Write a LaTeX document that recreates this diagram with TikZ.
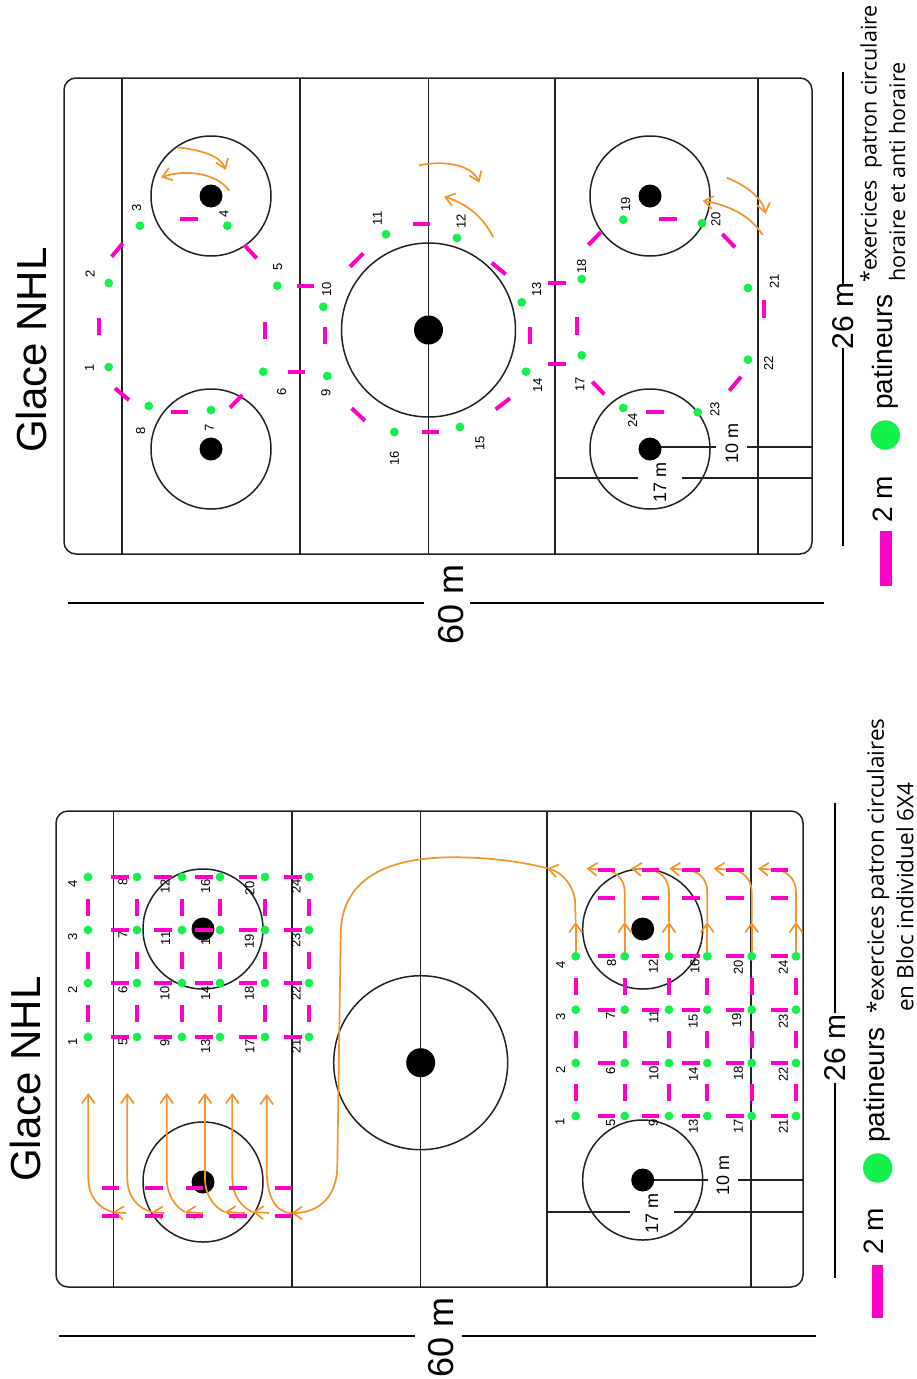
\documentclass[tikz,border=0pt]{standalone}
\usepackage{fontspec}
\setmainfont{Liberation Sans}
\newfontfamily\legfont{Open Sans}
\usepackage{xcolor}
\usetikzlibrary{arrows.meta}
\definecolor{rose}{HTML}{FF00C8}
\definecolor{vert}{HTML}{14F04C}
\definecolor{orange}{HTML}{F5942A}
\definecolor{trait}{HTML}{222222}
\tikzset{
  glace/.style={trait,line width=1.5pt},
  barre/.style={rose,line width=4pt},
  cote/.style={black,line width=2.4pt},
  skate/.style={orange,line width=1.7pt,-{Straight Barb[length=9pt,width=13pt,line width=1.7pt]}},
  num/.style={rotate=90,inner sep=0pt,font=\fontsize{13}{13}\selectfont},
  mesure/.style={rotate=90,inner sep=0pt,font=\fontsize{18}{18}\selectfont},
  titre/.style={rotate=90,inner sep=0pt,font=\fontsize{42}{42}\selectfont},
  grand/.style={rotate=90,inner sep=0pt,font=\fontsize{36}{36}\selectfont},
  moyen/.style={rotate=90,inner sep=0pt,font=\fontsize{30}{30}\selectfont},
  legende/.style={rotate=90,inner sep=0pt,font=\fontsize{28}{28}\selectfont},
  note/.style={rotate=90,inner sep=0pt,anchor=west,font=\legfont\fontsize{21.5}{21.5}\selectfont},
  noteb/.style={note,font=\legfont\fontsize{22.5}{22.5}\selectfont},
}
\begin{document}
\begin{tikzpicture}[x=1pt,y=-1pt]
  \useasboundingbox (0,0) rectangle (917,1379);

  \draw[glace,rounded corners=12pt] (64,78) rectangle (812,554);
  \foreach \x in {122,300,428.5,555,758} \draw[glace] (\x,78) -- (\x,554);
  \foreach \x/\y in {211/196,211/449,650/196,650/449} \draw[glace] (\x,\y) circle (60);
  \draw[glace] (428.5,330) circle (87);
  \draw[glace] (555,478) -- (638,478);
  \draw[glace] (682,478) -- (812,478);
  \draw[glace] (650,447) -- (716,447);
  \draw[glace] (747,447) -- (812,447);

  \foreach \n/\x/\y in {1/89.3/367.7,2/90/274.3,3/136.7/208.3,4/224/214,5/277.7/266.7,6/281.7/391.7,7/209.3/428.3,8/140.7/430.7,
    9/326/393.3,10/326.7/289,11/377.3/218.3,12/461/221,13/536.7/289,14/537.7/385,15/480/443,16/394.3/458.3,
    17/580/384.3,18/581.7/266.7,19/625.7/204.3,20/716/219.3,21/774.3/281,22/768.7/363.3,23/715/409.3,24/632.7/420}
    \node[num] (h\n) at (\x,\y) {\n};

  \foreach \x/\y in {211/196,211/449,650/196,650/449} \fill (\x,\y) circle (11.5);
  \fill (428.5,330) circle (14.5);

  \draw[skate] (177.3,147.3) .. controls (200,150) and (220,155) .. (225.7,170);
  \draw[skate] (229.3,190.7) .. controls (218,175) and (190,168) .. (161,177.3);
  \draw[skate] (419,165.3) .. controls (445,160) and (472,165) .. (479.3,182.7);
  \draw[skate] (493.3,237.3) .. controls (482,215) and (465,203) .. (444,196.7);
  \draw[skate] (726.7,177.7) .. controls (745,185) and (762,197) .. (765.7,214);
  \draw[skate] (762.7,235) .. controls (750,215) and (728,205) .. (702.7,200.7);

  \foreach \xa/\ya/\xb/\yb in {111.7/256.7/122.7/243.3,99.3/317.7/99.3/335,115/388.3/129/400,171/412/188.3/412,
    230/407.7/242.3/395,287.7/371.7/305/371.7,265.3/322.3/265.3/339.3,296.7/285.7/314/285.7,244.3/245/256.7/258.3,180/219.3/197.7/219.3,
    350/266.7/363.3/253.3,412.7/223.7/430/223.7,325/326.7/325/344,351.7/408.3/365/420.7,421.7/432/439/432,
    491.7/262.7/505.7/274.3,530.3/326.7/530.3/344,495.7/409.3/510/398.3,548.3/283.3/565.7/283.3,548.3/363.7/565.7/363.7,
    577.3/317.3/577.3/335,588.3/245/600.7/232.3,592.3/381.7/604.3/394.3,646/412/663.7/412,659.3/219.3/677/219.3,
    722.3/234/735/247.3,764.3/300/764.3/317.7,729.3/390.7/741/376.7}
    \draw[barre] (\xa,\ya) -- (\xb,\yb);

  \foreach \x/\y in {108.7/367,108.7/283,140/225.7,227.3/225.7,277.3/285.7,263.3/371.7,211/410,148.7/406,
    327.3/376,323.3/306.7,386/234.3,457/238,521.7/302.3,526/371.7,460/427,394.3/432,
    581.7/355.3,581.7/279,623.3/219.7,702/223.3,748/288,748/359.7,697.7/412.3,623.3/408}
    \fill[vert] (\x,\y) circle (4.4);

  \node[titre] (titreh) at (31.5,350) {Glace NHL};
  \node[grand] (soixanteh) at (451,604) {60 m};
  \draw[cote] (68,603) -- (424,603);
  \draw[cote] (470,603) -- (824,603);
  \node[moyen] (vingth) at (843,316) {26 m};
  \draw[cote] (843,72) -- (843,285);
  \draw[cote] (843,348) -- (843,546);
  \node[mesure] (dixh) at (732,443) {10 m};
  \node[mesure] (dixsepth) at (660,482) {17 m};
  \node[legende] (deuxh) at (882.5,499) {2 m};
  \node[legende,anchor=base] (patineursh) at (892,352) {patineurs};
  \fill[vert] (885.3,435) circle (14.7);
  \fill[rose] (880,531) rectangle (892,586);
  \node[note] (noteah) at (871,283) {*exercices\ \ patron circulaire};
  \node[note] (notebh) at (897,282) {horaire et anti horaire};

  \draw[glace,rounded corners=12pt] (56,811) rectangle (803,1287);
  \foreach \x in {113.5,292,420.7,547,751} \draw[glace] (\x,811) -- (\x,1287);
  \foreach \x/\y in {203/929,203/1182,642.7/929,642.7/1180} \draw[glace] (\x,\y) circle (60);
  \draw[glace] (420.7,1062.7) circle (87);
  \draw[glace] (547,1212) -- (630,1212);
  \draw[glace] (674,1212) -- (803,1212);
  \draw[glace] (642.7,1180) -- (708,1180);
  \draw[glace] (738,1180) -- (803,1180);

  \foreach \n/\x/\y in {1/72.7/1042.3,2/72.7/990,3/72.7/936.7,4/72.7/884.3,5/123/1042.3,6/123/990,7/123/935,8/123/881.7,
    9/165/1043.3,10/165/993.3,11/165.7/938.3,12/165/886.7,13/205.7/1046.7,14/205.7/993,15/205.7/938.3,16/205.7/886.7,
    17/250/1046.7,18/249.3/993,19/249.3/941.7,20/250/888,21/296/1046.7,22/296/993.3,23/296/940,24/296/886.7}
    \node[num] (g\n) at (\x,\y) {\n};
  \foreach \n/\x/\y in {1/560/1121.7,2/560.7/1070,3/560.7/1016.7,4/560.7/965,5/610.7/1122.7,6/610.7/1070.7,7/610.7/1016,8/611.7/963.3,
    9/653.3/1123,10/654/1073,11/654/1016.7,12/653.3/966,13/693.3/1126.7,14/693.3/1074.3,15/693.3/1021.7,16/695/966,
    17/738.3/1126.7,18/738.3/1073.3,19/736.7/1020.7,20/738.3/967.7,21/783.3/1126,22/783.3/1074,23/783.3/1021.7,24/783.3/967.3}
    \node[num] (d\n) at (\x,\y) {\n};

  \foreach \x/\y in {203/929,203/1182,642.7/929,642.7/1180} \fill (\x,\y) circle (11.5);
  \fill (420.7,1062.7) circle (14.5);

  \foreach \x/\t/\m in {88.3/126/113,127.3/164/152,166.7/203/185,205/245/225,232.3/269/253} {
    \draw[skate] (\t,1213) -- (\m,1212);
    \draw[skate] (\m,1212) .. controls (\x+12,1209) and (\x,1198) .. (\x,1178) -- (\x,1093);
  }
  \draw[skate] (575.7,956) -- (575.7,922);
  \draw[skate] (575.7,922) -- (575,900) .. controls (573,885) and (562,872) .. (547.3,868.3);
  \draw[skate] (547.3,868.3) .. controls (515,860) and (480,857) .. (450,857.3)
    .. controls (385,858) and (340.7,880) .. (340.7,935) -- (337.3,1166)
    .. controls (337.3,1195) and (320,1213) .. (291.7,1213);
  \draw[skate] (291.7,1213) .. controls (275,1213) and (266.7,1195) .. (266.7,1170) -- (266.7,1094);
  \foreach \x in {624.7,669,707.3,751.7,796} {
    \draw[skate] (\x,956) -- (\x,922);
    \draw[skate] (\x,922) -- (\x,892) .. controls (\x,878) and (\x-10,870) .. (\x-22,869.7) -- (\x-38,868.5);
  }

  \foreach \x in {88,137,182,220,265,309} \foreach \y in {899,952,1005}
    \draw[barre] (\x,\y) -- (\x,\y+17);
  \foreach \x in {111,154,195,239,284} \foreach \y in {877,930,983,1037}
    \draw[barre] (\x,\y) -- (\x+17.5,\y);
  \foreach \x/\y in {101.7/1188,145/1188,185.7/1188,229/1188,274.7/1188,101.7/1216,145/1216,185.7/1216,229/1216,274.7/1216}
    \draw[barre] (\x,\y) -- (\x+17.5,\y);
  \foreach \x in {575.7,624.7,669,707.3,751.7,796} \foreach \y in {978,1031,1084}
    \draw[barre] (\x,\y) -- (\x,\y+17);
  \foreach \x in {597.7,641.7,682.3,726,770.7} \foreach \y in {869.7,898.3,956.3,1009.7,1063,1116}
    \draw[barre] (\x,\y) -- (\x+17.5,\y);

  \foreach \x in {88,137,182,220,265,309} \foreach \y in {877,930,983,1037}
    \fill[vert] (\x,\y) circle (4.4);
  \foreach \x in {575.7,624.7,669,707.3,751.7,796} \foreach \y in {956.3,1009.7,1063,1116}
    \fill[vert] (\x,\y) circle (4.4);

  \node[titre] (titreb) at (25,1079) {Glace NHL};
  \node[grand] (soixanteb) at (441.5,1337) {60 m};
  \draw[cote] (59,1336) -- (415,1336);
  \draw[cote] (462,1336) -- (816,1336);
  \node[moyen] (vingtb) at (835,1048) {26 m};
  \draw[cote] (835,803) -- (835,1013);
  \draw[cote] (835,1083) -- (835,1278);
  \node[mesure] (dixb) at (723,1175) {10 m};
  \node[mesure] (dixseptb) at (652,1213) {17 m};
  \node[legende] (deuxb) at (874,1231.5) {2 m};
  \node[legende,anchor=base] (patineursb) at (884,1085) {patineurs};
  \fill[vert] (877.7,1168) circle (14.7);
  \fill[rose] (872,1265) rectangle (883,1318);
  \node[noteb] (noteab) at (878,1014) {*exercices patron circulaires};
  \node[noteb] (notebb) at (905,1012) {en Bloc individuel 6X4};
\end{tikzpicture}
\end{document}
